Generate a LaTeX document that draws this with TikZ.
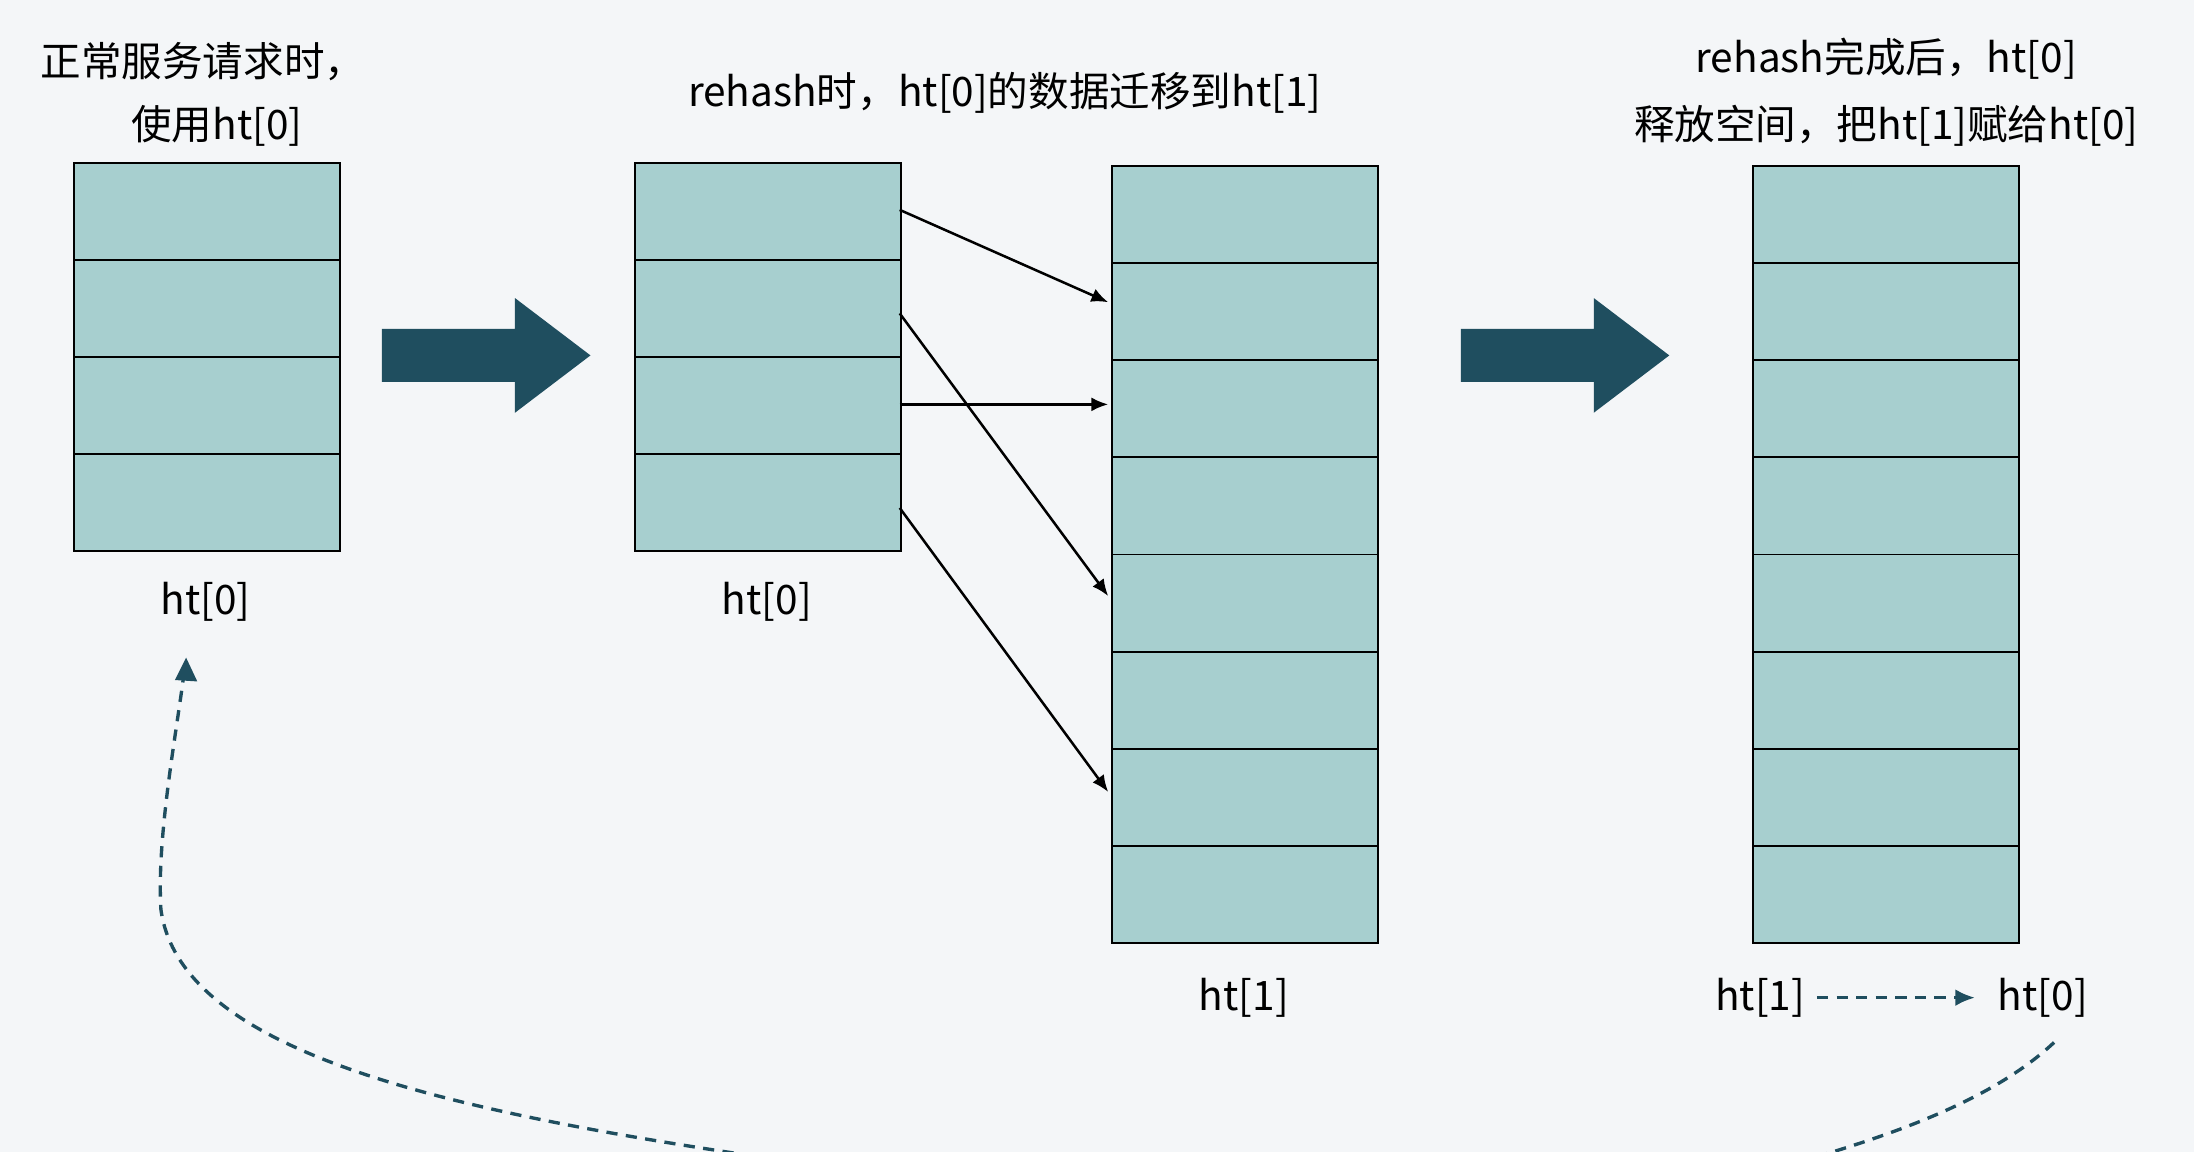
\documentclass[tikz,border=0pt]{standalone}
\usepackage{fontspec}
\setmainfont{Noto Sans CJK SC}
\usetikzlibrary{arrows.meta}
\definecolor{cell}{HTML}{A7CFCF}
\definecolor{dark}{HTML}{1F4E5F}
\definecolor{bg}{HTML}{F4F6F8}
\begin{document}
\begin{tikzpicture}[x=0.5pt,y=-0.5pt,
  lbl/.style={font=\fontsize{14.5}{17}\selectfont,text=black,inner sep=0},
  cellbox/.style={draw=black,line width=0.7pt,fill=cell,minimum width=95pt,minimum height=34.7pt,inner sep=0,anchor=north west},
  big/.style={fill=dark},
  mv/.style={-{Latex[length=6pt,width=5pt]},line width=0.9pt},
  dsh/.style={dark,line width=1.2pt,dash pattern=on 4pt off 3pt}]
\fill[bg] (0,0) rectangle (1568,823);
\useasboundingbox (0,0) rectangle (1568,823);
% box 1 and 2
\foreach \i in {0,...,3}{
  \node[cellbox] (a\i) at (52,{116+\i*69.25}) {};
  \node[cellbox] (b\i) at (453,{116+\i*69.25}) {};
}
\foreach \i in {0,...,7}{
  \node[cellbox,minimum height=34.7pt] (c\i) at (794,{118+\i*69.4}) {};
  \node[cellbox,minimum height=34.7pt] (d\i) at (1252,{118+\i*69.4}) {};
}
% big arrows
\fill[big] (273,235) -- (368,235) -- (368,213) -- (422,254) -- (368,295) -- (368,273) -- (273,273) -- cycle;
\fill[big] (1044,235) -- (1139,235) -- (1139,213) -- (1193,254) -- (1139,295) -- (1139,273) -- (1044,273) -- cycle;
% labels
\node[lbl] (t1) at (145,44) {正常服务请求时，};
\node[lbl] (t2) at (155,90) {使用ht[0]};
\node[lbl] (t3) at (718,66) {rehash时，ht[0]的数据迁移到ht[1]};
\node[lbl] (t4) at (1348,42) {rehash完成后，ht[0]};
\node[lbl] (t5) at (1348,90) {释放空间，把ht[1]赋给ht[0]};
\node[lbl] (l1) at (147,430) {ht[0]};
\node[lbl] (l2) at (548,430) {ht[0]};
\node[lbl] (l3) at (889,713) {ht[1]};
\node[lbl] (l4) at (1258,713) {ht[1]};
\node[lbl] (l5) at (1460,713) {ht[0]};
% migration arrows
\draw[mv] (643,150) -- (792,216);
\draw[mv] (643,224) -- (792,426);
\draw[mv] (643,289) -- (792,289);
\draw[mv] (643,363) -- (792,566);
\draw[dsh,-{Latex[length=7pt,width=6pt]}] (l4.east) ++(8,0) coordinate (s) -- ([xshift=-8]l5.west);
\coordinate (e) at (133,470);
\begin{scope}
\clip (0,0) rectangle (1568,823);
\draw[dsh] (1468,745) .. controls (1420,790) and (1340,815) .. (1270,835) -- (600,835) .. controls (350,800) and (130,760) .. (115,650) .. controls (112,600) and (125,530) .. (131,485);
\end{scope}
\fill[dark] (133,470) -- (125,486) -- (141,487) -- cycle;
\end{tikzpicture}
\end{document}
